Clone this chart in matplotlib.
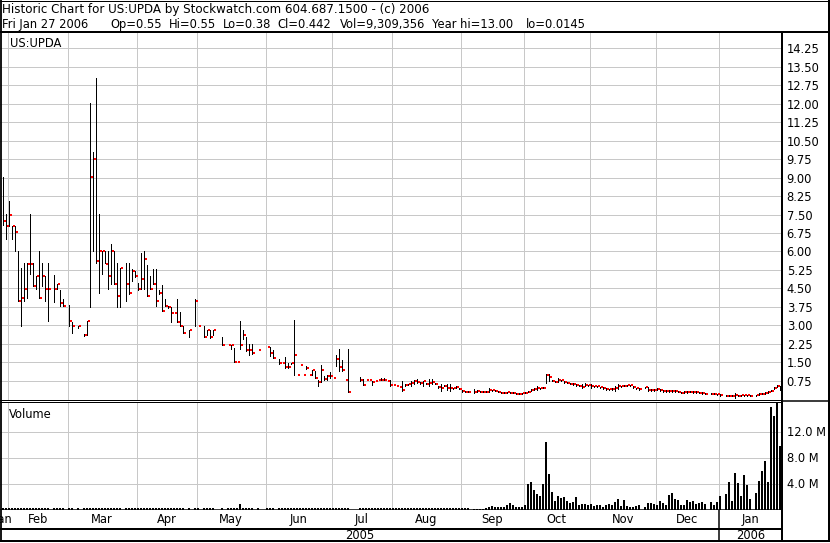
import numpy as np
import matplotlib
matplotlib.use('Agg')
import matplotlib.pyplot as plt

nan = np.nan

############## DATA ################
# one entry per trading day, Jan 28 2005 .. Jan 27 2006 (nan = no trade)

high = [
    9.02, 7.53, 8.05, 7.02, 7.02, 6.00, 5.32, 5.54, 5.54, 7.53,
    5.54, 5.02, 6.00, 5.54, 5.02, 5.54, nan, 5.05, 4.68, 4.45,
    4.05, nan, 3.83, 3.12, nan, 2.99, nan, 2.65, 3.19, 12.05,
    10.04, 13.06, 7.53, 6.00, 6.00, 6.00, 6.31, 6.00, 5.54, 5.32,
    nan, 5.54, 5.54, 5.27, 5.22, 4.72, 5.94, 6.00, 5.46, 5.02,
    5.27, 5.27, 4.45, 4.64, 4.05, 3.77, 3.73, 3.50, 4.05, 3.53,
    2.99, nan, 2.82, nan, 4.05, 2.99, nan, 2.99, 2.82, 2.82,
    2.82, nan, nan, 2.51, nan, 2.20, 2.20, 2.07, 1.50, 3.19,
    2.82, 2.51, 2.24, 2.24, nan, 2.01, nan, nan, 2.11, 2.11,
    2.01, nan, 1.63, 1.47, 1.73, 1.47, 1.47, 3.20, 0.97, 1.38,
    1.00, 1.34, 1.00, 1.17, 1.13, 0.79, 1.40, 0.95, 0.99, 1.10,
    0.87, 1.81, 2.02, 1.61, 0.79, 2.02, nan, nan, nan, 0.89,
    0.83, 0.79, 0.79, 0.75, 0.72, 0.79, 0.86, 0.86, 0.72, 0.79,
    0.59, 0.55, 0.48, 0.72, 0.60, 0.63, 0.75, 0.79, 0.82, 0.68,
    0.75, 0.66, 0.82, 0.82, 0.65, 0.53, 0.61, 0.57, 0.61, 0.61,
    0.46, 0.52, 0.45, 0.36, 0.33, 0.33, nan, 0.41, 0.36, 0.33,
    0.33, 0.33, 0.44, 0.39, 0.36, 0.32, 0.29, 0.29, 0.31, 0.29,
    0.28, 0.25, 0.25, 0.27, 0.29, 0.33, 0.41, 0.45, 0.55, 0.46,
    0.48, 1.02, 1.02, 0.78, 0.74, 0.86, 0.79, 0.73, 0.70, 0.66,
    0.64, 0.60, 0.58, 0.61, 0.65, 0.59, 0.61, 0.55, 0.55, 0.51,
    0.49, 0.45, 0.43, 0.44, 0.55, 0.61, 0.55, 0.58, 0.59, 0.59,
    0.52, 0.47, 0.44, nan, 0.50, 0.48, 0.41, 0.41, 0.44, 0.41,
    0.37, 0.36, 0.37, 0.36, 0.36, 0.34, 0.30, 0.33, 0.33, 0.34,
    0.33, 0.32, 0.30, 0.29, 0.26, nan, 0.26, 0.26, 0.23, 0.21,
    nan, 0.17, 0.17, 0.17, 0.27, 0.18, 0.19, 0.19, 0.19, 0.17,
    nan, 0.19, 0.25, 0.26, 0.29, 0.32, 0.38, 0.49, 0.58, 0.55,
]

low = [
    7.06, 6.51, 7.02, 6.51, 6.00, 3.98, 2.99, 4.00, 4.13, 5.09,
    4.59, 4.48, 4.10, 4.61, 4.00, 3.19, nan, 3.94, 4.48, 3.80,
    3.77, nan, 2.99, 2.69, nan, 2.88, nan, 2.58, 2.61, 3.73,
    6.00, 5.54, 4.32, 5.09, 5.54, 4.48, 4.68, 4.68, 3.73, 3.73,
    nan, 4.00, 4.28, 4.82, 4.95, 4.45, 4.48, 4.48, 4.21, 4.48,
    4.68, 3.77, 4.28, 3.60, 3.80, 3.69, 3.12, 3.50, 3.12, 2.99,
    2.69, nan, 2.51, nan, 2.99, 2.99, nan, 2.51, 2.61, 2.47,
    2.61, nan, nan, 2.20, nan, 2.20, 2.04, 1.50, 1.50, 2.04,
    2.45, 1.97, 1.79, 1.83, nan, 2.01, nan, nan, 2.11, 1.77,
    1.66, nan, 1.43, 1.47, 1.27, 1.27, 1.45, 0.97, 0.97, 1.38,
    1.00, 1.23, 1.00, 1.00, 0.86, 0.52, 0.68, 0.79, 0.76, 0.86,
    0.87, 1.34, 1.13, 1.13, 0.79, 0.31, nan, nan, nan, 0.75,
    0.56, 0.79, 0.79, 0.59, 0.72, 0.79, 0.76, 0.76, 0.72, 0.55,
    0.59, 0.55, 0.48, 0.34, 0.55, 0.58, 0.55, 0.61, 0.65, 0.63,
    0.55, 0.61, 0.55, 0.61, 0.60, 0.47, 0.35, 0.52, 0.38, 0.34,
    0.42, 0.47, 0.40, 0.31, 0.29, 0.29, nan, 0.27, 0.31, 0.29,
    0.29, 0.29, 0.30, 0.35, 0.32, 0.28, 0.25, 0.25, 0.27, 0.25,
    0.24, 0.21, 0.21, 0.23, 0.25, 0.29, 0.35, 0.38, 0.38, 0.41,
    0.44, 0.65, 0.75, 0.72, 0.68, 0.71, 0.73, 0.67, 0.64, 0.60,
    0.58, 0.54, 0.52, 0.44, 0.55, 0.53, 0.44, 0.49, 0.49, 0.45,
    0.43, 0.39, 0.37, 0.38, 0.34, 0.41, 0.49, 0.52, 0.53, 0.53,
    0.46, 0.41, 0.38, nan, 0.45, 0.34, 0.35, 0.35, 0.38, 0.35,
    0.31, 0.30, 0.31, 0.30, 0.30, 0.28, 0.24, 0.27, 0.27, 0.28,
    0.27, 0.26, 0.24, 0.23, 0.20, nan, 0.20, 0.20, 0.17, 0.15,
    nan, 0.11, 0.11, 0.11, 0.03, 0.12, 0.13, 0.13, 0.13, 0.11,
    nan, 0.13, 0.19, 0.20, 0.23, 0.26, 0.32, 0.43, 0.48, 0.38,
]

close = [
    7.22, 7.02, 7.50, 7.02, 6.81, 4.00, 4.13, 4.48, 5.51, 5.51,
    4.61, 5.02, 4.13, 5.02, 4.48, 4.48, nan, 4.48, 4.68, 3.91,
    3.80, nan, 3.19, 2.99, nan, 2.99, nan, 2.61, 3.19, 9.02,
    9.74, 5.63, 6.00, 6.00, 5.51, 5.02, 6.00, 4.68, 4.21, 5.32,
    nan, 4.68, 4.32, 5.22, 5.02, 4.48, 4.89, 5.70, 4.21, 4.48,
    4.68, 4.00, 4.32, 3.60, 3.80, 3.73, 3.50, 3.50, 3.12, 2.99,
    2.69, nan, 2.82, nan, 4.00, 2.99, nan, 2.51, 2.82, 2.51,
    2.82, nan, nan, 2.20, nan, 2.20, 2.20, 1.50, 1.50, 2.20,
    2.61, 2.01, 2.01, 1.88, nan, 2.01, nan, nan, 2.11, 1.88,
    1.66, nan, 1.47, 1.47, 1.30, 1.30, 1.47, 1.79, 0.97, 1.38,
    1.00, 1.25, 1.00, 1.17, 0.87, 0.70, 1.17, 0.82, 0.95, 0.95,
    0.87, 1.65, 1.30, 1.17, 0.79, 0.31, nan, nan, nan, 0.79,
    0.59, 0.79, 0.79, 0.70, 0.72, 0.79, 0.79, 0.79, 0.72, 0.59,
    0.59, 0.55, 0.48, 0.38, 0.57, 0.61, 0.65, 0.75, 0.68, 0.65,
    0.74, 0.63, 0.65, 0.71, 0.63, 0.50, 0.45, 0.55, 0.44, 0.46,
    0.44, 0.50, 0.42, 0.33, 0.31, 0.31, nan, 0.31, 0.34, 0.31,
    0.31, 0.31, 0.37, 0.37, 0.34, 0.30, 0.27, 0.27, 0.29, 0.27,
    0.26, 0.23, 0.23, 0.25, 0.27, 0.31, 0.38, 0.42, 0.44, 0.44,
    0.46, 1.00, 0.89, 0.75, 0.71, 0.80, 0.76, 0.70, 0.67, 0.63,
    0.61, 0.57, 0.55, 0.49, 0.56, 0.56, 0.52, 0.52, 0.52, 0.48,
    0.46, 0.42, 0.40, 0.41, 0.44, 0.55, 0.52, 0.55, 0.56, 0.56,
    0.49, 0.44, 0.41, nan, 0.48, 0.38, 0.38, 0.38, 0.41, 0.38,
    0.34, 0.33, 0.34, 0.33, 0.33, 0.31, 0.27, 0.30, 0.30, 0.31,
    0.30, 0.29, 0.27, 0.26, 0.23, nan, 0.23, 0.23, 0.20, 0.18,
    nan, 0.14, 0.14, 0.14, 0.19, 0.15, 0.16, 0.16, 0.16, 0.14,
    nan, 0.16, 0.22, 0.23, 0.26, 0.29, 0.35, 0.46, 0.55, 0.44,
]

# volume in millions of shares
volume = [
    0.3, 0.3, 0.3, 0.3, 0.3, 0.3, 0.3, 0.3, 0.3, 0.3,
    0.3, 0.3, 0.3, 0.3, 0.3, 0.3, 0, 0.3, 0.3, 0.3,
    0.3, 0, 0.3, 0.3, 0, 0.3, 0, 0.3, 0.3, 0.3,
    0.3, 0.3, 0.3, 0.3, 0.3, 0.3, 0.3, 0.3, 0.3, 0.3,
    0, 0.3, 0.3, 0.3, 0.3, 0.3, 0.3, 0.3, 0.3, 0.3,
    0.3, 0.3, 0.3, 0.3, 0.3, 0.3, 0.3, 0.3, 0.3, 0.3,
    0.3, 0, 0.3, 0, 0.3, 0.3, 0, 0.3, 0.3, 0.3,
    0.3, 0, 0, 0.3, 0, 0.3, 0.3, 0.3, 0.3, 0.8,
    0.3, 0.3, 0.3, 0.3, 0, 0.3, 0, 0, 0.3, 0.3,
    0.3, 0, 0.3, 0.3, 0.3, 0.3, 0.3, 0.3, 0.3, 0.3,
    0.3, 0.3, 0.3, 0.3, 0.3, 0.3, 0.3, 0.3, 0.3, 0.3,
    0.3, 0.3, 0.3, 0.3, 0.3, 0.3, 0, 0, 0, 0.3,
    0.3, 0.3, 0.3, 0.3, 0.3, 0.3, 0.3, 0.3, 0.3, 0.3,
    0.3, 0.3, 0.3, 0.3, 0.3, 0.3, 0.3, 0.3, 0.3, 0.3,
    0.3, 0.3, 0.3, 0.3, 0.3, 0.3, 0.3, 0.3, 0.3, 0.3,
    0.3, 0.3, 0.3, 0.3, 0.3, 0.3, 0, 0.15, 0.15, 0.15,
    0.15, 0.2, 0.36, 0.51, 0.36, 0.36, 0.36, 0.41, 0.67, 0.97,
    0.67, 0.36, 0.36, 0.36, 0.67, 3.9, 4.26, 2.97, 2.36, 2.05,
    3.9, 10.36, 5.44, 2.67, 1.28, 2.05, 1.74, 1.9, 1.28, 0.97,
    1.13, 1.9, 0.67, 0.82, 0.82, 0.67, 0.82, 0.51, 0.67, 0.67,
    0.36, 0.67, 0.82, 0.67, 1.13, 1.59, 0.51, 1.44, 0.51, 0.36,
    0.36, 0.51, 0.67, 0, 0.36, 0.97, 0.97, 0.82, 0.67, 1.28,
    0.97, 0.67, 2.2, 2.51, 1.59, 1.44, 0.67, 0.67, 1.44, 1.13,
    1.28, 0.82, 0.97, 1.13, 0.82, 0, 1.13, 0.67, 1.13, 2.05,
    0, 2.36, 4.2, 1.28, 5.6, 4.05, 2.05, 5.28, 3.74, 1.59,
    0, 2.51, 4.36, 5.9, 7.44, 4.2, 15.7, 14.4, 16.4, 9.74,
]

month_names = ['Jan', 'Feb', 'Mar', 'Apr', 'May', 'Jun', 'Jul',
               'Aug', 'Sep', 'Oct', 'Nov', 'Dec', 'Jan']
month_starts = [2, 22, 45, 65, 88, 110, 130, 153, 174, 196, 218, 239]
year_names = ['2005', '2006']

price_ticks = [0.75, 1.50, 2.25, 3.00, 3.75, 4.50, 5.25, 6.00, 6.75, 7.50,
               8.25, 9.00, 9.75, 10.50, 11.25, 12.00, 12.75, 13.50, 14.25]
volume_ticks = [4, 8, 12]

title = 'Historic Chart for US:UPDA by Stockwatch.com 604.687.1500 - (c) 2006'
quote_items = ['Fri Jan 27 2006', 'Op=0.55', 'Hi=0.55', 'Lo=0.38', 'Cl=0.442',
               'Vol=9,309,356', 'Year hi=13.00', 'lo=0.0145']
quote_x = [2, 110, 169, 223, 277, 340, 432, 526]

############## PLOT ################

plt.rcParams['font.family'] = ['DejaVu Sans']
FS = 8.3
PX = 0.72          # one pixel in points at 100 dpi
GRID = '#c8c8c8'
W, H = 830, 543

fig = plt.figure(figsize=(W / 100, H / 100), dpi=100)
fig.patch.set_facecolor('white')


def px_box(left, top, right, bottom):
    return [left / W, 1 - bottom / H, (right - left) / W, (bottom - top) / H]


days = np.arange(len(close))
hi = np.array(high, dtype=float)
lo = np.array(low, dtype=float)
cl = np.array(close, dtype=float)
vol = np.array(volume, dtype=float)
ok = ~np.isnan(cl)

X0 = -2.5 / 3
X1 = 782 / 3 + X0
grid_x = np.array(month_starts) - 0.25

# ---- price panel
ax = fig.add_axes(px_box(0, 31.5, 782, 400))
ax.set_xlim(X0, X1)
ax.set_ylim(-0.8 / 24.62, 367.7 / 24.62)
ax.set_xticks(grid_x)
ax.set_xticks([], minor=True)
ax.set_yticks(price_ticks)
ax.set_yticklabels(['%.2f' % t for t in price_ticks])
ax.yaxis.tick_right()
ax.tick_params(axis='y', length=0, pad=3.4, labelsize=FS)
ax.tick_params(axis='x', length=0, labelbottom=False)
ax.grid(True, which='major', color=GRID, lw=PX)
ax.set_axisbelow(True)
for s in ['left', 'top']:
    ax.spines[s].set_visible(False)
ax.spines['right'].set_linewidth(2 * PX)
ax.spines['bottom'].set_linewidth(PX)

ax.vlines(days[ok], lo[ok], hi[ok], color='black', lw=PX, antialiased=False)
ax.hlines(cl[ok], days[ok] + 1 / 3, days[ok] + 1, color='#ff0000',
          lw=2 * PX, antialiased=False)

# ---- volume panel
vax = fig.add_axes(px_box(0, 402, 782, 509.5))
vax.set_xlim(X0, X1)
vax.set_ylim(0, 107.5 / 6.5)
vax.set_xticks(grid_x)
vax.set_xticks([], minor=True)
vax.set_yticks(volume_ticks)
vax.set_yticklabels(['%.1f M' % t for t in volume_ticks])
vax.yaxis.tick_right()
vax.tick_params(axis='y', length=0, pad=3.4, labelsize=FS)
vax.tick_params(axis='x', length=0, labelbottom=False)
vax.grid(True, which='major', color=GRID, lw=PX)
vax.set_axisbelow(True)
vax.spines['left'].set_visible(False)
vax.spines['top'].set_linewidth(PX)
vax.spines['right'].set_linewidth(2 * PX)
vax.spines['bottom'].set_linewidth(1.5 * PX)
vax.bar(days - 1 / 6, vol, width=2 / 3, align='edge', color='black', lw=0,
        antialiased=False)

# ---- date strip
dax = fig.add_axes(px_box(0, 509.5, 782, 541))
dax.set_xlim(X0, X1)
dax.set_ylim(31.5, 0)
dax.set_xticks([])
dax.set_yticks([])
for s in ['left', 'top']:
    dax.spines[s].set_visible(False)
dax.spines['right'].set_linewidth(2 * PX)
dax.spines['bottom'].set_linewidth(2 * PX)
dax.axhline(19, color='black', lw=2 * PX)
dax.axvline(grid_x[-1], color='black', lw=1.5 * PX)

edges = [X0] + list(grid_x) + [X1]
for i, name in enumerate(month_names):
    dax.text((edges[i] + edges[i + 1]) / 2, 13.8, name, ha='center',
             va='baseline', fontsize=FS)
year_edges = [X0, grid_x[-1], X1]
for i, name in enumerate(year_names):
    dax.text((year_edges[i] + year_edges[i + 1]) / 2, 29.3, name, ha='center',
             va='baseline', fontsize=FS)

# ---- frame and header, drawn in pixel coordinates
ov = fig.add_axes([0, 0, 1, 1])
ov.set_xlim(0, W)
ov.set_ylim(H, 0)
ov.axis('off')
ov.patch.set_alpha(0)
frame = [((0, 830), (0.5, 0.5), 1.0),
         ((0.9, 0.9), (0, 542), 1.8),
         ((829, 829), (0, 542), 2.0),
         ((0, 830), (541, 541), 2.0),
         ((0, 830), (31.5, 31.5), 2.0),
         ((782, 830), (401, 401), 1.5)]
for xs, ys, w in frame:
    ov.plot(xs, ys, color='black', lw=w * PX, solid_capstyle='butt')

ov.text(2, 13, title, va='baseline', fontsize=8.6)
for x, item in zip(quote_x, quote_items):
    ov.text(x, 28, item, va='baseline', fontsize=FS)
ov.text(10, 46.7, 'US:UPDA', va='baseline', fontsize=FS)
ov.text(9, 417.5, 'Volume', va='baseline', fontsize=FS)

plt.savefig('out.png', dpi=100)
plt.close()
